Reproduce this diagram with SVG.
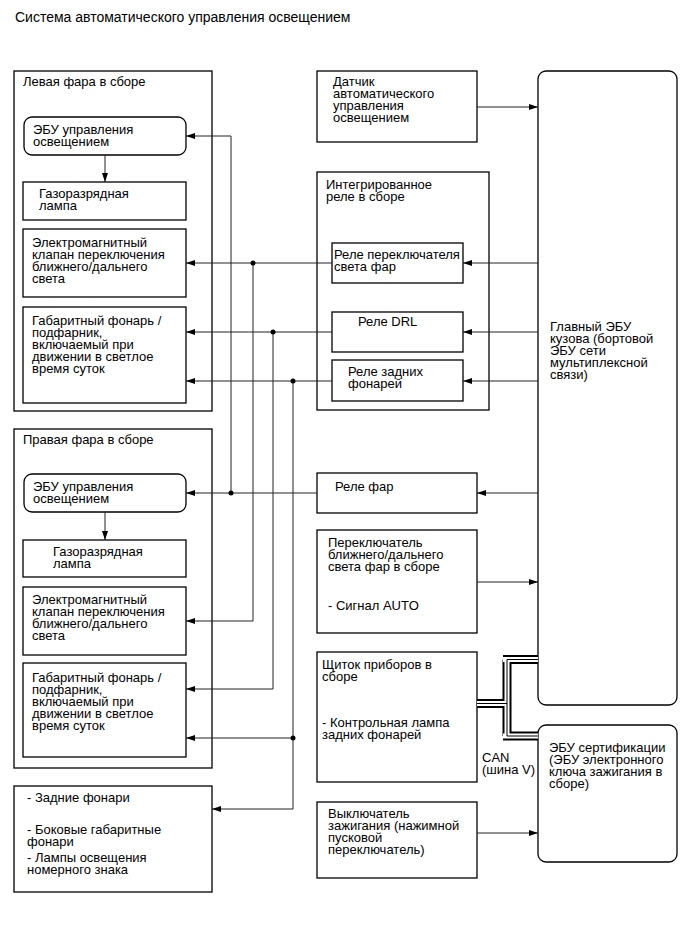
<svg xmlns="http://www.w3.org/2000/svg" width="689" height="950" viewBox="0 0 689 950">
<defs>
<style>
text{font-family:"Liberation Sans",Arial,sans-serif;font-size:13px;fill:#000}
.t{font-size:14px}
.b{fill:#fff;stroke:#000;stroke-width:1.3}
.c{fill:none;stroke:#222;stroke-width:1}
.a{marker-end:url(#ah)}
.can1{fill:none;stroke:#000;stroke-width:9}
.can2{fill:none;stroke:#fff;stroke-width:5}
.can3{fill:none;stroke:#000;stroke-width:1}
</style>
<marker id="ah" markerWidth="9" markerHeight="6" refX="9" refY="3" orient="auto" markerUnits="userSpaceOnUse">
<path d="M0,0 L9,3 L0,6 z" fill="#000"/>
</marker>
</defs>
<rect width="689" height="950" fill="#fff"/>
<text class="t" x="15" y="22">Система автоматического управления освещением</text>

<g id="left-headlamp">
<rect class="b" x="14" y="71" width="198" height="340"/>
<text x="23" y="86">Левая фара в сборе</text>
</g>
<g id="left-ecu">
<rect class="b" x="24" y="117" width="162" height="38" rx="8"/>
<text x="33" y="134">ЭБУ управления</text>
<text x="33" y="146">освещением</text>
</g>
<g id="left-lamp">
<rect class="b" x="23" y="182" width="163" height="38"/>
<text x="39" y="198">Газоразрядная</text>
<text x="39" y="210">лампа</text>
</g>
<g id="left-solenoid">
<rect class="b" x="23" y="229" width="163" height="68"/>
<text x="32" y="247">Электромагнитный</text>
<text x="32" y="259">клапан переключения</text>
<text x="32" y="271">ближнего/дальнего</text>
<text x="32" y="283">света</text>
</g>
<g id="left-position">
<rect class="b" x="23" y="307" width="163" height="96"/>
<text x="32" y="325">Габаритный фонарь /</text>
<text x="32" y="337">подфарник,</text>
<text x="32" y="349">включаемый при</text>
<text x="32" y="361">движении в светлое</text>
<text x="32" y="373">время суток</text>
</g>

<g id="right-headlamp">
<rect class="b" x="14" y="429" width="198" height="339"/>
<text x="23" y="444">Правая фара в сборе</text>
</g>
<g id="right-ecu">
<rect class="b" x="24" y="474" width="162" height="38" rx="8"/>
<text x="33" y="491">ЭБУ управления</text>
<text x="33" y="503">освещением</text>
</g>
<g id="right-lamp">
<rect class="b" x="23" y="540" width="163" height="37"/>
<text x="53" y="556">Газоразрядная</text>
<text x="53" y="568">лампа</text>
</g>
<g id="right-solenoid">
<rect class="b" x="23" y="587" width="163" height="68"/>
<text x="32" y="604">Электромагнитный</text>
<text x="32" y="616">клапан переключения</text>
<text x="32" y="628">ближнего/дальнего</text>
<text x="32" y="640">света</text>
</g>
<g id="right-position">
<rect class="b" x="23" y="663" width="163" height="94"/>
<text x="32" y="682">Габаритный фонарь /</text>
<text x="32" y="694">подфарник,</text>
<text x="32" y="706">включаемый при</text>
<text x="32" y="718">движении в светлое</text>
<text x="32" y="730">время суток</text>
</g>

<g id="tail-lamps">
<rect class="b" x="14" y="786" width="198" height="106"/>
<text x="27" y="802">- Задние фонари</text>
<text x="27" y="834">- Боковые габаритные</text>
<text x="27" y="846">фонари</text>
<text x="27" y="862">- Лампы освещения</text>
<text x="27" y="874">номерного знака</text>
</g>

<g id="sensor">
<rect class="b" x="317" y="71" width="160" height="71"/>
<text x="333" y="86">Датчик</text>
<text x="333" y="98">автоматического</text>
<text x="333" y="110">управления</text>
<text x="333" y="122">освещением</text>
</g>
<g id="integration-relay">
<rect class="b" x="317" y="172" width="172" height="238"/>
<text x="326" y="189">Интегрированное</text>
<text x="326" y="201">реле в сборе</text>
</g>
<g id="dimmer-relay">
<rect class="b" x="332" y="243" width="131" height="40"/>
<text x="334" y="259">Реле переключателя</text>
<text x="334" y="271">света фар</text>
</g>
<g id="drl-relay">
<rect class="b" x="332" y="312" width="131" height="40"/>
<text x="358" y="326">Реле DRL</text>
</g>
<g id="tail-relay">
<rect class="b" x="332" y="360" width="131" height="41"/>
<text x="348" y="376">Реле задних</text>
<text x="348" y="388">фонарей</text>
</g>
<g id="head-relay">
<rect class="b" x="317" y="473" width="160" height="40"/>
<text x="335" y="491">Реле фар</text>
</g>
<g id="dimmer-switch">
<rect class="b" x="317" y="530" width="160" height="103"/>
<text x="328" y="547">Переключатель</text>
<text x="328" y="559">ближнего/дальнего</text>
<text x="328" y="571">света фар в сборе</text>
<text x="328" y="610">- Сигнал AUTO</text>
</g>
<g id="meter">
<rect class="b" x="317" y="652" width="160" height="130"/>
<text x="322" y="669">Щиток приборов в</text>
<text x="322" y="681">сборе</text>
<text x="322" y="727">- Контрольная лампа</text>
<text x="322" y="739">задних фонарей</text>
</g>
<g id="ignition-switch">
<rect class="b" x="317" y="802" width="160" height="76"/>
<text x="328" y="818">Выключатель</text>
<text x="328" y="830">зажигания (нажимной</text>
<text x="328" y="842">пусковой</text>
<text x="328" y="854">переключатель)</text>
</g>
<g id="main-body-ecu">
<rect class="b" x="538" y="71" width="139" height="634" rx="8"/>
<text x="550" y="331">Главный ЭБУ</text>
<text x="550" y="343">кузова (бортовой</text>
<text x="550" y="355">ЭБУ сети</text>
<text x="550" y="367">мультиплексной</text>
<text x="550" y="379">связи)</text>
</g>
<g id="certification-ecu">
<rect class="b" x="538" y="725" width="139" height="137" rx="8"/>
<text x="549" y="752">ЭБУ сертификации</text>
<text x="549" y="764">(ЭБУ электронного</text>
<text x="549" y="776">ключа зажигания в</text>
<text x="549" y="788">сборе)</text>
</g>

<g id="connectors">
<path class="c a" d="M105,155 V182"/>
<path class="c a" d="M105,512 V540"/>
<path class="c a" d="M231,493 V136 H186"/>
<path class="c a" d="M317,493 H186"/>
<path class="c a" d="M332,263 H186"/>
<path class="c a" d="M253,263 V621 H186"/>
<path class="c a" d="M332,332 H186"/>
<path class="c a" d="M273,332 V689 H186"/>
<path class="c a" d="M332,381 H186"/>
<path class="c a" d="M293,381 V809 H212"/>
<path class="c a" d="M293,738 H186"/>
<path class="c a" d="M538,263 H463"/>
<path class="c a" d="M538,332 H463"/>
<path class="c a" d="M538,381 H463"/>
<path class="c a" d="M538,493 H477"/>
<path class="c a" d="M477,107 H538"/>
<path class="c a" d="M477,582 H538"/>
<path class="c a" d="M477,833 H538"/>
<g fill="#000">
<circle cx="231" cy="493" r="2.5"/>
<circle cx="253" cy="263" r="2.5"/>
<circle cx="273" cy="332" r="2.5"/>
<circle cx="293" cy="381" r="2.5"/>
<circle cx="293" cy="738" r="2.5"/>
</g>
<g id="can-bus">
<path class="can1" d="M477,703.5 H507 M507,659.5 V736 M503,659.5 H538 M503,736 H538"/>
<path class="can2" d="M477,703.5 H507 M507,659.5 V736 M503,659.5 H538 M503,736 H538"/>
<path class="can3" d="M477,703.5 H507 M507,659.5 V736 M507,659.5 H538 M507,736 H538"/>
</g>
<text x="482" y="762">CAN</text>
<text x="482" y="774">(шина V)</text>
</g>
</svg>
